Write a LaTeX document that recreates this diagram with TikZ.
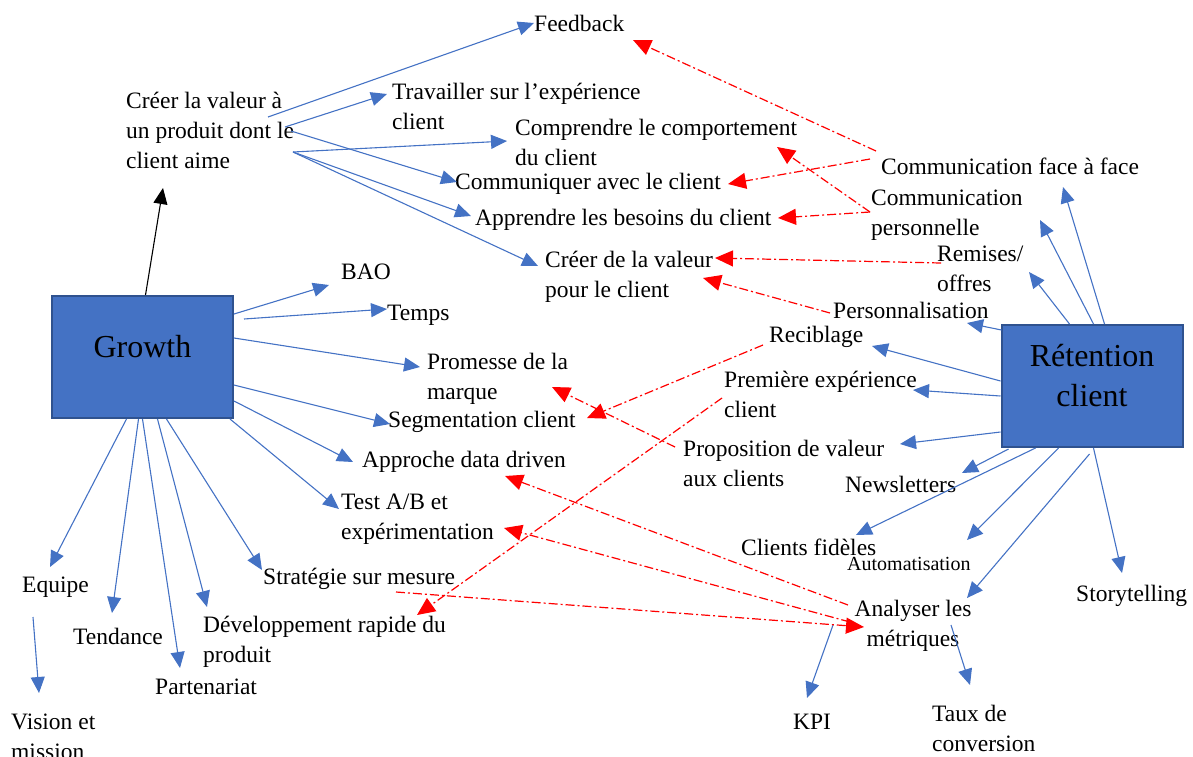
\documentclass[tikz,border=0pt]{standalone}
\usepackage{fontspec}
\setmainfont{Liberation Serif}
\usetikzlibrary{arrows.meta,calc}
\definecolor{officeblue}{HTML}{4472C4}
\definecolor{boxedge}{HTML}{2F528F}

\begin{document}
\begin{tikzpicture}[x=1pt,y=-1pt,
	txt/.style={anchor=west,inner sep=0pt,align=left,font=\fontsize{23.5}{30}\selectfont},
	bigbox/.style={draw=boxedge,line width=2pt,fill=officeblue,inner sep=0pt,minimum width=181pt,minimum height=122pt},
	boxtxt/.style={yshift=10pt,align=center,font=\fontsize{32}{40}\selectfont},
	bl/.style={officeblue,line width=1.1pt,-{Triangle[length=16pt,width=14pt]}},
	rd/.style={red,line width=1.2pt,dash pattern=on 9pt off 3pt on 2pt off 3pt,-{Triangle[length=18pt,width=16pt]}}]
		\useasboundingbox (0,0) rectangle (1193,756);
		\node[bigbox,label={[boxtxt]center:Growth}] (grow) at (142.5,357) {};
		\node[bigbox,label={[boxtxt]center:Rétention\\client}] (rete) at (1092,386) {};
		\node[txt] (cree) at (126,130) {Créer la valeur à\\un produit dont le\\client aime};
		\node[txt] (feed) at (534,23) {Feedback};
		\node[txt] (trav) at (392,106) {Travailler sur l’expérience\\client};
		\node[txt] (compr) at (515,142) {Comprendre le comportement\\du client};
		\node[txt] (commu) at (455,184) {Communiquer avec le client};
		\node[txt] (appr) at (475,220) {Apprendre les besoins du client};
		\node[txt] (creev) at (545,277) {Créer de la valeur\\pour le client};
		\node[txt] (bao) at (341,272) {BAO};
		\node[txt] (temps) at (387,315) {Temps};
		\node[txt] (prom) at (427,379) {Promesse de la\\marque};
		\node[txt] (segm) at (388,422) {Segmentation client};
		\node[txt] (appro) at (362,462) {Approche data driven};
		\node[txt] (test) at (341,519) {Test A/B et\\expérimentation};
		\node[txt] (strat) at (263,579) {Stratégie sur mesure};
		\node[txt] (dev) at (203,642) {Développement rapide du\\produit};
		\node[txt] (equi) at (22,587) {Equipe};
		\node[txt] (tend) at (73,636) {Tendance};
		\node[txt] (part) at (155,687) {Partenariat};
		\node[txt] (vis) at (11,737) {Vision et\\mission};
		\node[txt] (cface) at (881,166) {Communication face à face};
		\node[txt] (cpers) at (871,215) {Communication\\personnelle};
		\node[txt] (remi) at (937,269) {Remises/\\offres};
		\node[txt] (pers) at (833,310) {Personnalisation};
		\node[txt] (reci) at (769,337) {Reciblage};
		\node[txt] (prem) at (724,394) {Première expérience\\client};
		\node[txt] (propo) at (683,463) {Proposition de valeur\\aux clients};
		\node[txt] (news) at (845,484) {Newsletters};
		\node[txt] (fide) at (741,547) {Clients fidèles};
		\node[txt,font=\fontsize{20}{24}\selectfont] (auto) at (847,564) {Automatisation};
		\node[txt,anchor=center,align=center] (anal) at (913,626) {Analyser les\\métriques};
		\node[txt] (story) at (1076,596) {Storytelling};
		\node[txt] (kpi) at (793,722) {KPI};
		\node[txt] (taux) at (932,728) {Taux de\\conversion};
		\draw[line width=1.1pt,-{Triangle[length=16pt,width=14pt]}] ($(grow.north)+(3,0)$) -- ($(cree.west)+(37,58)$);
		\draw[bl] ($(cree.west)+(142,-13)$) -- (feed.west);
		\draw[bl] ($(cree.west)+(159,-3)$) -- ($(trav.west)+(-5,-12)$);
		\draw[bl] ($(cree.west)+(167,22)$) -- ($(compr.west)+(-8,-1)$);
		\draw[bl] ($(cree.west)+(165,1)$) -- ($(commu.west)+(2,-2)$);
		\draw[bl] ($(cree.west)+(167,22)$) -- ($(appr.west)+(-4,-4)$);
		\draw[bl] ($(cree.west)+(167,22)$) -- ($(creev.west)+(-7,-11)$);
		\draw[bl] ($(grow.north east)+(0,19)$) -- ($(bao.west)+(-12,13)$);
		\draw[bl] ($(grow.north east)+(10,24)$) -- ($(temps.west)+(0,-6)$);
		\draw[bl] ($(grow.north east)+(0,43)$) -- ($(prom.west)+(-7,-12)$);
		\draw[bl] ($(grow.north east)+(0,90)$) -- ($(segm.west)+(2,2)$);
		\draw[bl] ($(grow.north east)+(0,106)$) -- ($(appro.west)+(-9,0)$);
		\draw[bl] ($(grow.south east)+(-4,0)$) -- ($(test.west)+(-2,-10)$);
		\draw[bl] ($(grow.south)+(24,0)$) -- ($(strat.west)+(-1,-9)$);
		\draw[bl] ($(grow.south)+(15,0)$) -- ($(dev.west)+(4,-35)$);
		\draw[bl] (grow.south) -- ($(part.west)+(25,-19)$);
		\draw[bl] ($(grow.south)+(-4,0)$) -- ($(tend.west)+(39,-23)$);
		\draw[bl] ($(grow.south)+(-16,0)$) -- ($(equi.west)+(28,-20)$);
		\draw[bl] ($(equi.west)+(11,30)$) -- ($(vis.west)+(28,-44)$);
		\draw[bl] ($(rete.north west)+(1,6)$) -- ($(pers.west)+(134,13)$);
		\draw[bl] ($(rete.north west)+(0,57)$) -- ($(reci.west)+(103,9)$);
		\draw[bl] ($(rete.north west)+(0,72)$) -- ($(prem.west)+(189,-4)$);
		\draw[bl] ($(rete.north west)+(0,108)$) -- ($(propo.west)+(217,-19)$);
		\draw[bl] ($(rete.south west)+(8,1)$) -- ($(news.west)+(117,-11)$);
		\draw[bl] ($(rete.south west)+(35,0)$) -- ($(fide.west)+(115,-12)$);
		\draw[bl] ($(rete.south west)+(58,0)$) -- ($(auto.west)+(120,-24)$);
		\draw[bl] ($(rete.south west)+(89,6)$) -- ($(anal.center)+(54,-28)$);
		\draw[bl] ($(rete.south west)+(93,0)$) -- ($(story.west)+(46,-23)$);
		\draw[bl] ($(rete.north west)+(104,0)$) -- ($(cface.west)+(182,21)$);
		\draw[bl] ($(rete.north west)+(93,0)$) -- ($(cpers.west)+(169,5)$);
		\draw[bl] ($(rete.north west)+(69,0)$) -- ($(remi.west)+(92,3)$);
		\draw[bl] ($(anal.center)+(-80,-1)$) -- ($(kpi.west)+(14,-24)$);
		\draw[bl] ($(anal.center)+(38,-1)$) -- ($(taux.west)+(38,-43)$);
		\draw[rd] ($(cface.west)+(-5,-15)$) -- ($(feed.west)+(99,17)$);
		\draw[rd] ($(cface.west)+(-11,-7)$) -- ($(commu.west)+(273,0)$);
		\draw[rd] ($(cpers.west)+(-1,-3)$) -- ($(compr.west)+(262,5)$);
		\draw[rd] ($(cpers.west)+(-1,-3)$) -- ($(appr.west)+(303,-2)$);
		\draw[rd] ($(remi.west)+(4,-6)$) -- ($(creev.west)+(170,-19)$);
		\draw[rd] ($(pers.west)+(-3,3)$) -- ($(creev.west)+(158,1)$);
		\draw[rd] ($(reci.west)+(-6,8)$) -- ($(segm.west)+(199,-4)$);
		\draw[rd] ($(propo.west)+(-8,-16)$) -- ($(prom.west)+(125,8)$);
		\draw[rd] ($(prem.west)+(-2,4)$) -- ($(dev.west)+(214,-27)$);
		\draw[rd] ($(anal.center)+(-65,-21)$) -- ($(appro.west)+(143,14)$);
		\draw[rd] ($(anal.center)+(-63,-4)$) -- ($(test.west)+(163,9)$);
		\draw[rd] ($(strat.west)+(133,13)$) -- ($(anal.center)+(-49,1)$);
\end{tikzpicture}
\end{document}
